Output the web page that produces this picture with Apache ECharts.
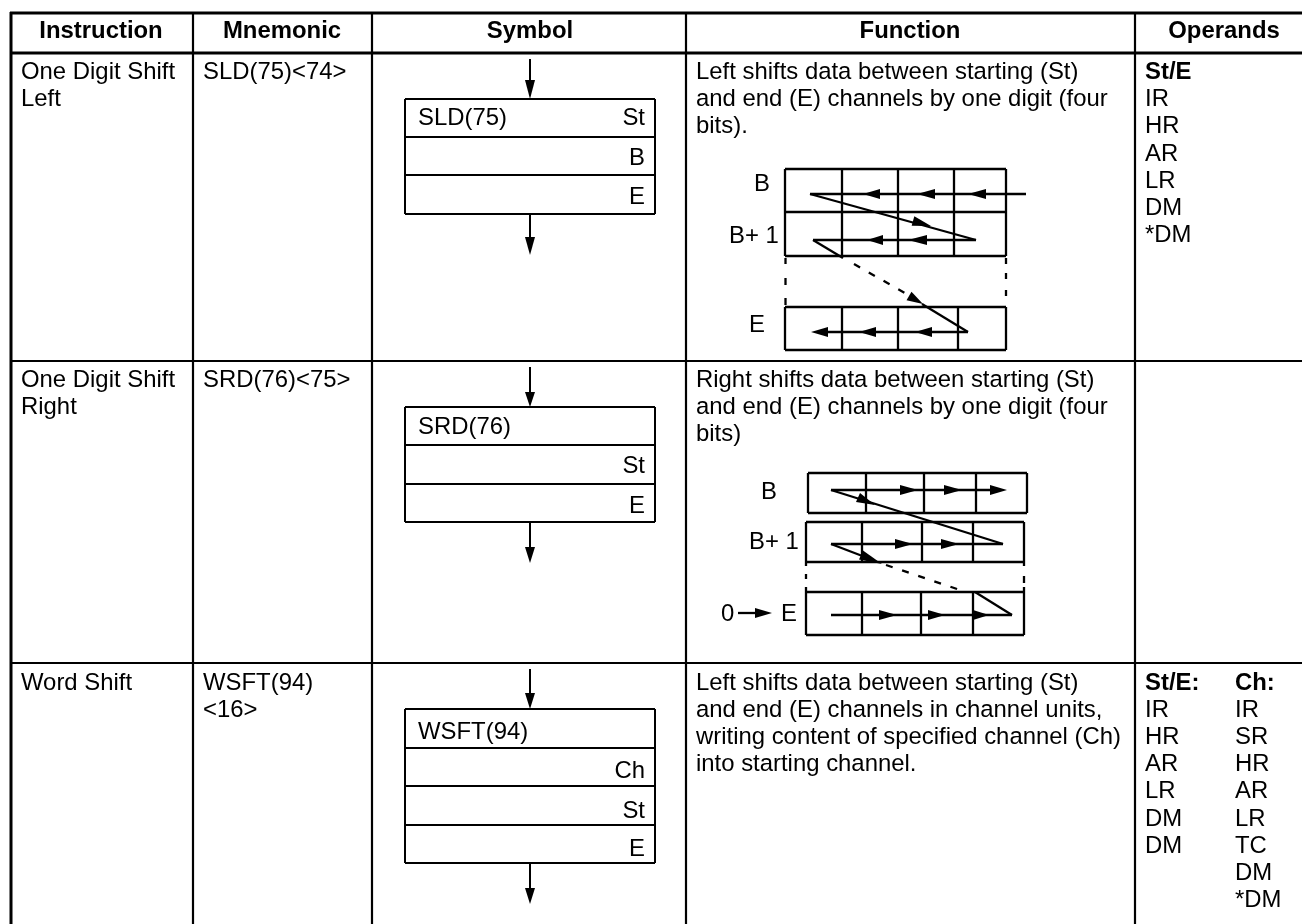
<!DOCTYPE html>
<html>
<head>
<meta charset="utf-8">
<style>
  html, body { margin: 0; background: #fff; }
  #table { width: 1302px; height: 924px; }
</style>
<script src="https://cdn.jsdelivr.net/npm/echarts@6/dist/echarts.min.js"></script>
</head>
<body>
<div id="table"></div>
<script>
// Everything below is in page units. [x1, y1, x2, y2]
const outerRules = [
  [10, 13, 1302, 13], [10, 53, 1302, 53], [11, 12, 11, 924]
];
const innerRules = [
  [193, 12, 193, 924], [372, 12, 372, 924], [686, 12, 686, 924], [1135, 12, 1135, 924],
  [10, 361, 1302, 361], [10, 663, 1302, 663]
];
const symbolLines = [
  [530, 59, 530, 90], [405, 99, 655, 99], [405, 137, 655, 137], [405, 175, 655, 175], [405, 214, 655, 214],
  [405, 99, 405, 214], [655, 99, 655, 214], [530, 214, 530, 245],
  [530, 367, 530, 398], [405, 407, 655, 407], [405, 445, 655, 445], [405, 484, 655, 484], [405, 522, 655, 522],
  [405, 407, 405, 522], [655, 407, 655, 522], [530, 522, 530, 553],
  [530, 669, 530, 700], [405, 709, 655, 709], [405, 748, 655, 748], [405, 786, 655, 786], [405, 825, 655, 825], [405, 863, 655, 863],
  [405, 709, 405, 863], [655, 709, 655, 863], [530, 863, 530, 894]
];
const shiftLeftLines = [
  [785, 169, 1006, 169], [785, 212, 1006, 212], [785, 256, 1006, 256], [785, 169, 785, 256], [1006, 169, 1006, 256],
  [842, 169, 842, 256], [898, 169, 898, 256], [954, 169, 954, 256],
  [785, 307, 1006, 307], [785, 350, 1006, 350], [785, 307, 785, 350], [1006, 307, 1006, 350],
  [842, 307, 842, 350], [898, 307, 898, 350], [958, 307, 958, 350],
  [1026, 194, 810, 194], [810, 194, 976, 240], [976, 240, 813, 240], [813, 240, 843, 258],
  [922, 304, 968, 332], [968, 332, 818, 332]
];
const shiftRightLines = [
  [808, 473, 1027, 473], [808, 513, 1027, 513], [808, 473, 808, 513], [1027, 473, 1027, 513],
  [866, 473, 866, 513], [924, 473, 924, 513], [976, 473, 976, 513],
  [806, 522, 1024, 522], [806, 562, 1024, 562], [806, 522, 806, 562], [1024, 522, 1024, 562],
  [862, 522, 862, 562], [922, 522, 922, 562], [973, 522, 973, 562],
  [806, 592, 1024, 592], [806, 635, 1024, 635], [806, 592, 806, 635], [1024, 592, 1024, 635],
  [862, 592, 862, 635], [921, 592, 921, 635], [973, 592, 973, 635],
  [831, 490, 995, 490], [831, 490, 1003, 544], [1003, 544, 831, 544], [831, 544, 865, 557],
  [831, 615, 1012, 615], [1012, 615, 975, 592], [738, 613, 760, 613]
];
// The broken edges between the cell rows, dash by dash
const breakMarks = [
  [785.5, 258, 785.5, 264], [785.5, 278, 785.5, 285], [785.5, 298, 785.5, 305],
  [1006, 258, 1006, 264], [1006, 273, 1006, 279], [1006, 290, 1006, 296],
  [806, 562, 806, 566], [806, 574, 806, 579], [806, 587, 806, 592],
  [1024, 562, 1024, 566], [1024, 576, 1024, 583], [1024, 587, 1024, 592]
];
const dashedLines = [
  [854, 264, 910, 296], [886, 565, 966, 592]
];
// [tipX, tipY, baseX, baseY]
const arrowHeads = [
  [530, 99, 530, 80], [530, 255, 530, 237], [530, 407, 530, 392], [530, 563, 530, 547], [530, 709, 530, 693], [530, 904, 530, 888],
  [968, 194, 986, 194], [917, 194, 935, 194], [863, 194, 880, 194], [931, 226, 913, 221],
  [867, 240, 883, 240], [908, 240, 927, 240], [923, 304, 909, 296],
  [811, 332, 828, 332], [859, 332, 876, 332], [915, 332, 932, 332],
  [918, 490, 900, 490], [962, 490, 944, 490], [1007, 490, 990, 490], [875, 505, 858, 497.5],
  [913, 544, 895, 544], [959, 544, 941, 544], [882, 564, 861, 555],
  [897, 615, 879, 615], [945, 615, 928, 615], [989, 615, 973, 615], [772, 613, 755, 613]
];
// [x, baseline, text]
const headerLabels = [
  [101, 37, 'Instruction'], [282, 37, 'Mnemonic'], [530, 37, 'Symbol'], [910, 37, 'Function'], [1224, 37, 'Operands']
];
const bodyLabels = [
  [21, 78, 'One Digit Shift'], [21, 105, 'Left'],
  [21, 386, 'One Digit Shift'], [21, 413, 'Right'],
  [21, 689, 'Word Shift'],
  [203, 78, 'SLD(75)<74>'], [203, 386, 'SRD(76)<75>'], [203, 689, 'WSFT(94)'], [203, 716, '<16>'],
  [418, 124, 'SLD(75)'], [418, 433, 'SRD(76)'], [418, 738, 'WSFT(94)'],
  [696, 78, 'Left shifts data between starting (St)'],
  [696, 105, 'and end (E) channels by one digit (four'],
  [696, 132, 'bits).'],
  [696, 386, 'Right shifts data between starting (St)'],
  [696, 413, 'and end (E) channels by one digit (four'],
  [696, 440, 'bits)'],
  [696, 689, 'Left shifts data between starting (St)'],
  [696, 716, 'and end (E) channels in channel units,'],
  [696, 743, 'writing content of specified channel (Ch)'],
  [696, 770, 'into starting channel.'],
  [729, 242, 'B+ 1'], [749, 548, 'B+ 1'], [721, 620, '0'],
  [1145, 105, 'IR'], [1145, 132, 'HR'], [1145, 160, 'AR'], [1145, 187, 'LR'], [1145, 214, 'DM'], [1145, 241, '*DM'],
  [1145, 716, 'IR'], [1145, 743, 'HR'], [1145, 770, 'AR'], [1145, 797, 'LR'], [1145, 825, 'DM'], [1145, 852, 'DM'],
  [1235, 716, 'IR'], [1235, 743, 'SR'], [1235, 770, 'HR'], [1235, 797, 'AR'], [1235, 825, 'LR'], [1235, 852, 'TC'], [1235, 879, 'DM'], [1235, 906, '*DM']
];
const boldLabels = [
  [1145, 78, 'St/E'], [1145, 689, 'St/E:'], [1235, 689, 'Ch:']
];
const rightLabels = [
  [645, 124, 'St'], [645, 164, 'B'], [645, 203, 'E'],
  [645, 472, 'St'], [645, 512, 'E'],
  [645, 777, 'Ch'], [645, 817, 'St'], [645, 855, 'E'],
  [770, 190, 'B'], [765, 331, 'E'], [777, 498, 'B'], [797, 620, 'E']
];

const FONT_SIZE = 23.9;
const FONT = '"Liberation Sans", Arial, sans-serif';

// Straight pieces through the page axes
function lineSeries(segments, width, dash) {
  return {
    type: 'custom',
    coordinateSystem: 'cartesian2d',
    silent: true,
    clip: false,
    data: segments,
    renderItem: function (params, api) {
      const a = api.coord([api.value(0), api.value(1)]);
      const b = api.coord([api.value(2), api.value(3)]);
      return {
        type: 'line',
        shape: { x1: a[0], y1: a[1], x2: b[0], y2: b[1] },
        style: { stroke: '#000', lineWidth: width, lineDash: dash || null }
      };
    }
  };
}

function headSeries(heads) {
  return {
    type: 'custom',
    coordinateSystem: 'cartesian2d',
    silent: true,
    clip: false,
    data: heads,
    renderItem: function (params, api) {
      const tip = api.coord([api.value(0), api.value(1)]);
      const base = api.coord([api.value(2), api.value(3)]);
      const dx = base[0] - tip[0];
      const dy = base[1] - tip[1];
      const len = Math.sqrt(dx * dx + dy * dy);
      const nx = -dy / len * 5;
      const ny = dx / len * 5;
      return {
        type: 'polygon',
        shape: { points: [tip, [base[0] + nx, base[1] + ny], [base[0] - nx, base[1] - ny]] },
        style: { fill: '#000' }
      };
    }
  };
}

function textSeries(rows, align, weight) {
  return {
    type: 'custom',
    coordinateSystem: 'cartesian2d',
    silent: true,
    clip: false,
    data: rows.map(r => [r[0], r[1]]),
    renderItem: function (params, api) {
      const p = api.coord([api.value(0), api.value(1)]);
      return {
        type: 'text',
        x: p[0],
        y: p[1] - 5.5,
        style: {
          text: rows[params.dataIndex][2],
          fill: '#000',
          font: weight + ' ' + FONT_SIZE + 'px ' + FONT,
          align: align,
          verticalAlign: 'middle'
        }
      };
    }
  };
}

const chart = echarts.init(document.getElementById('table'), null, { renderer: 'canvas' });
chart.setOption({
  animation: false,
  backgroundColor: '#fff',
  tooltip: { show: false },
  grid: { left: 0, right: 0, top: 0, bottom: 0 },
  xAxis: { type: 'value', min: 0, max: 1302, show: false },
  yAxis: { type: 'value', min: 0, max: 924, inverse: true, show: false },
  series: [
    lineSeries(outerRules, 3),
    lineSeries(innerRules, 2.2),
    lineSeries(symbolLines, 2),
    lineSeries(shiftLeftLines, 2.3),
    lineSeries(shiftRightLines, 2.3),
    lineSeries(breakMarks, 2.3),
    lineSeries(dashedLines, 2.3, [7, 10]),
    headSeries(arrowHeads),
    textSeries(headerLabels, 'center', 'bold'),
    textSeries(bodyLabels, 'left', 'normal'),
    textSeries(boldLabels, 'left', 'bold'),
    textSeries(rightLabels, 'right', 'normal')
  ]
});
</script>
</body>
</html>
